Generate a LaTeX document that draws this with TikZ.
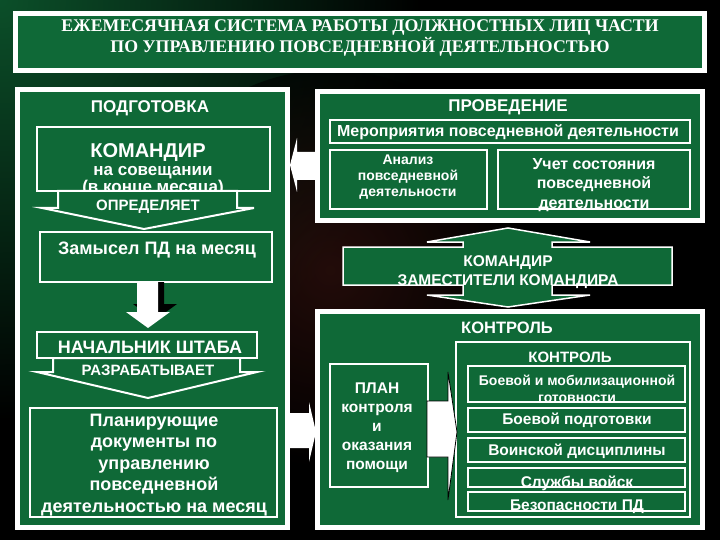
\documentclass[tikz,border=0pt]{standalone}
\usepackage{fontspec}
\setmainfont{Liberation Serif}
\setsansfont{Liberation Sans}
\usetikzlibrary{calc}
\definecolor{pdgreen}{HTML}{0F6937}
\definecolor{bgred}{HTML}{3A1410}
\newcommand\tsz[2]{\fontsize{#1}{#2}\selectfont\sffamily\bfseries}
\tikzset{
  panel/.style={draw=white, line width=5pt, fill=pdgreen, inner sep=0pt},
  gbox/.style={draw=white, line width=2.5pt, fill=pdgreen, inner sep=0pt},
  ibox/.style={draw=white, line width=1.8pt, fill=pdgreen, inner sep=0pt},
  txt/.style={text=white, align=center, inner sep=0pt},
  garrow/.style={fill=pdgreen, draw=white, line width=2pt, line join=miter},
  warrow/.style={fill=white, draw=none},
}
\begin{document}
\begin{tikzpicture}[x=1pt, y=-1pt]
  \useasboundingbox (0,0) rectangle (720,540);
  % background
  \fill[black] (0,0) rectangle (720,540);
  \begin{scope}
    \clip (0,0) rectangle (720,540);
    \shade[inner color=pdgreen!75!black, outer color=black] (0,0) circle (420pt);
    \shade[inner color=bgred, outer color=black, opacity=.6] (330,270) circle (200pt);
  \end{scope}

  % title
  \node[panel, minimum width=689pt, minimum height=57pt] (title) at (360,42) {};
  \node[txt, font=\fontsize{17.8}{21}\selectfont\bfseries] (titlet) at (360,38)
    {ЕЖЕМЕСЯЧНАЯ СИСТЕМА РАБОТЫ ДОЛЖНОСТНЫХ ЛИЦ ЧАСТИ\\ПО УПРАВЛЕНИЮ ПОВСЕДНЕВНОЙ ДЕЯТЕЛЬНОСТЬЮ};

  % panels
  \node[panel, minimum width=270pt, minimum height=438pt] (podg) at (152.5,308.5) {};
  \node[panel, minimum width=385pt, minimum height=129pt] (prov) at (510,156) {};
  \node[panel, minimum width=385pt, minimum height=216pt] (kontr) at (510,419.5) {};

  % preparation
  \node[txt, font=\tsz{17}{19}] (podgt) at (150,108) {ПОДГОТОВКА};
  \node[gbox, minimum width=233pt, minimum height=64pt] (cmd) at (153.5,159) {};
  \node[txt, font=\tsz{20}{22}] (cmdt) at (148,152.5) {КОМАНДИР};
  \node[txt, font=\tsz{17}{14.5}] (cmds) at (153,181.5) {на совещании\\(в конце месяца)};
  \draw[garrow] (58,191) -- (58,208) -- (42,208) -- (144,229) -- (254,208)
    -- (237,208) -- (237,191) -- cycle;
  \node[txt, font=\tsz{15}{17}] (opr) at (148,207) {ОПРЕДЕЛЯЕТ};
  \node[gbox, minimum width=232pt, minimum height=50pt] (zam) at (156,257) {};
  \node[txt, font=\tsz{18}{20}] (zamt) at (157,250) {Замысел ПД на месяц};
  \fill[black] (144,282) -- (144,304) -- (133,304) -- (155,320) -- (177,304)
    -- (164,304) -- (164,282) -- cycle;
  \fill[warrow] (137,282) -- (137,312) -- (126,312) -- (148,328) -- (170,312)
    -- (158,312) -- (158,282) -- cycle;
  \node[gbox, minimum width=220pt, minimum height=26pt] (nsh) at (147,345) {};
  \node[txt, font=\tsz{18}{20}] (nsht) at (150,347) {НАЧАЛЬНИК ШТАБА};
  \draw[garrow] (53,358) -- (53,372) -- (37,372) -- (148,398) -- (257,372)
    -- (240,372) -- (240,358) -- cycle;
  \node[txt, font=\tsz{15}{17}] (razr) at (148,370) {РАЗРАБАТЫВАЕТ};
  \node[gbox, minimum width=247pt, minimum height=109pt] (pdoc) at (153.5,462.5) {};
  \node[txt, font=\tsz{18}{21.5}] (pdoct) at (154,465)
    {Планирующие\\документы по\\управлению\\повседневной\\деятельностью на месяц};

  % execution
  \node[txt, font=\tsz{17}{19}] (provt) at (508,107) {ПРОВЕДЕНИЕ};
  \node[gbox, minimum width=360pt, minimum height=23pt] (merop) at (510,131.5) {};
  \node[txt, font=\tsz{16}{18}] (meropt) at (508,132) {Мероприятия повседневной деятельности};
  \node[gbox, minimum width=157pt, minimum height=59pt] (anal) at (408.5,179.5) {};
  \node[txt, font=\tsz{14}{16}] (analt) at (408,177) {Анализ\\повседневной\\деятельности};
  \node[gbox, minimum width=192pt, minimum height=59pt] (uchet) at (594,179.5) {};
  \node[txt, font=\tsz{16}{19.5}] (uchett) at (594,185) {Учет состояния\\повседневной\\деятельности};

  % commander, double arrow
  \draw[garrow, line width=1.5pt] (343,247) -- (463,247) -- (463,242) -- (427,242)
    -- (508,228) -- (590,242) -- (552,242) -- (552,247) -- (672,247)
    -- (672,285) -- (552,285) -- (552,295) -- (590,295) -- (508,307)
    -- (427,295) -- (463,295) -- (463,285) -- (343,285) -- cycle;
  \node[txt, font=\tsz{15.5}{19}] (zamk) at (508,272.5) {КОМАНДИР\\ЗАМЕСТИТЕЛИ КОМАНДИРА};

  % control
  \node[txt, font=\tsz{16.5}{19}] (kontrt) at (507,328) {КОНТРОЛЬ};
  \node[gbox, minimum width=98pt, minimum height=123pt] (plan) at (379,425.5) {};
  \node[txt, font=\tsz{15.5}{19}] (plant) at (377,428) {ПЛАН\\контроля\\и\\оказания\\помощи};
  \node[gbox, minimum width=234pt, minimum height=175pt] (ctl) at (573,429.5) {};
  \node[txt, font=\tsz{15}{17}] (ctlt) at (570,357) {КОНТРОЛЬ};
  \node[ibox, minimum width=217pt, minimum height=36pt] (i1) at (576.5,384) {};
  \node[ibox, minimum width=217pt, minimum height=24pt] (i2) at (576.5,420) {};
  \node[ibox, minimum width=217pt, minimum height=24pt] (i3) at (576.5,450) {};
  \node[ibox, minimum width=217pt, minimum height=19pt] (i4) at (576.5,477.5) {};
  \node[ibox, minimum width=217pt, minimum height=19pt] (i5) at (576.5,501.5) {};
  \node[txt, font=\tsz{14}{17}] (i1t) at (577,388.5) {Боевой и мобилизационной\\готовности};
  \node[txt, font=\tsz{15.5}{17}] (i2t) at (577,420) {Боевой подготовки};
  \node[txt, font=\tsz{15.5}{17}] (i3t) at (577,451) {Воинской дисциплины};
  \node[txt, font=\tsz{15.5}{17}] (i4t) at (577,483) {Службы войск};
  \node[txt, font=\tsz{15.5}{17}] (i5t) at (577,507) {Безопасности ПД};
  \draw[fill=white, draw=black, line width=.8pt] (427,401) -- (448,401) -- (448,372)
    -- (457,432) -- (448,500) -- (448,457) -- (427,457) -- cycle;

  % arrows between panels
  \fill[warrow] (316,152) -- (297,152) -- (297,138) -- (290,165) -- (297,192)
    -- (297,180) -- (316,180) -- cycle;
  \fill[warrow] (290,413) -- (309,413) -- (309,402) -- (316,432) -- (309,462)
    -- (309,448) -- (290,448) -- cycle;
\end{tikzpicture}
\end{document}
